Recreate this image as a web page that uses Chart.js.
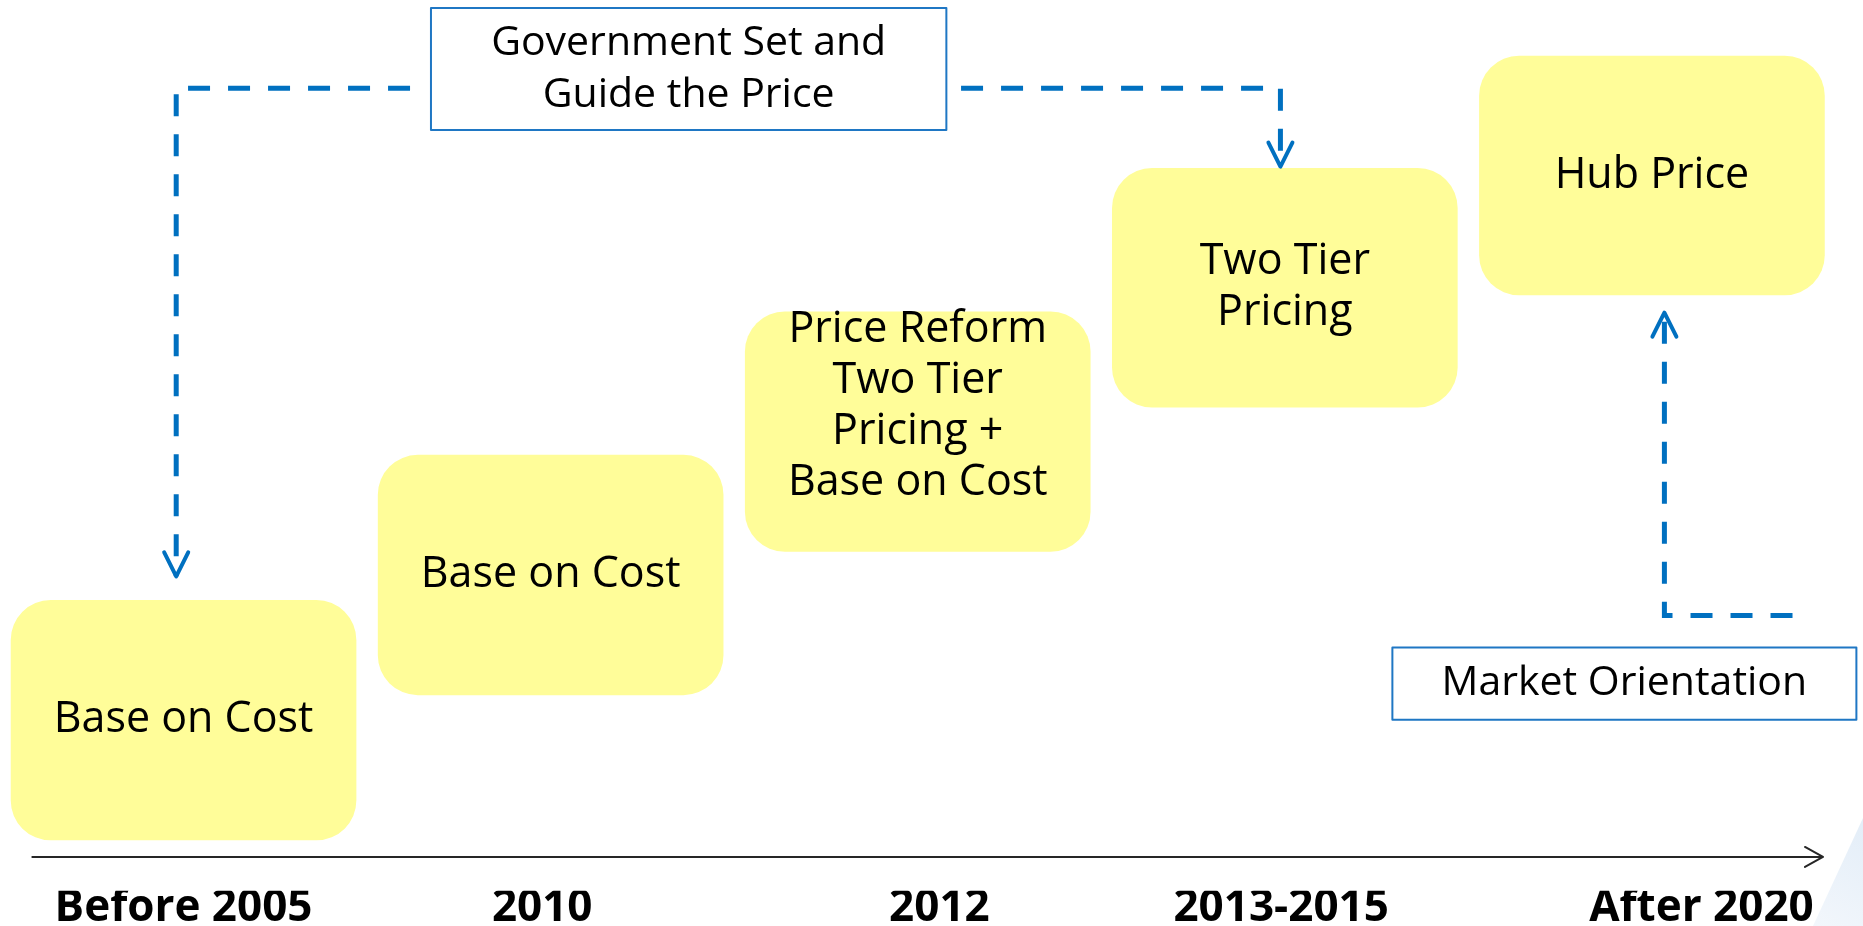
<!DOCTYPE html>
<html lang="en">
<head>
<meta charset="UTF-8">
<title>Gas Pricing Reform</title>
<script src="https://cdn.jsdelivr.net/npm/chart.js@4.4.1/dist/chart.umd.min.js"></script>
<style>
  body { margin: 0; background: #fff; }
  #wrap { width: 1863px; height: 926px; position: relative; }
</style>
</head>
<body>
<div id="wrap"><canvas id="timeline"></canvas></div>
<script>
// stages along the timeline (x = stage index)
var stagePos = [0, 1, 2, 3, 4];
var stageLow = [0.57, 2.2, 3.81, 5.43, 6.69];
var stageHigh = [3.26, 4.89, 6.5, 8.11, 9.37];
var stageText = [
  ['Base on Cost'],
  ['Base on Cost'],
  ['Price Reform', 'Two Tier', 'Pricing +', 'Base on Cost'],
  ['Two Tier', 'Pricing'],
  ['Hub Price']
];

// period labels under the axis
var periodLabels = ['Before 2005', '2010', '2012', '2013-2015', 'After 2020'];
var periodPos = [0, 0.977, 2.059, 2.99, 4.135];

// framed notes: text, x range, y range
var noteText = [['Government Set and', 'Guide the Price'], ['Market Orientation']];
var noteX = [[0.674, 2.078], [3.293, 4.557]];
var noteY = [[8.54, 9.91], [1.92, 2.73]];

// dashed connectors (x, y)
var govToBase = [[0.617, 9.01], [-0.02, 9.01], [-0.02, 3.53]];
var govToTier = [[2.118, 9.01], [2.988, 9.01], [2.988, 8.13]];
var marketToHub = [[4.383, 3.09], [4.034, 3.09], [4.034, 6.49]];
var timeAxis = [[-0.414, 0.38], [4.466, 0.38]];

var BLUE = '#0070C0';
var FONT = "'Open Sans', 'Noto Sans', sans-serif";

function pts(a) {
  return a.map(function (p) { return { x: p[0], y: p[1] }; });
}

function connector(a) {
  return {
    type: 'line', data: pts(a), borderColor: BLUE, borderWidth: 5,
    borderDash: [22, 18], pointRadius: 0, fill: false, tension: 0,
    arrow: { color: BLUE, width: 4, len: 24, half: 12 }
  };
}

var decorPlugin = {
  id: 'decor',
  beforeDraw: function (chart) {
    var ctx = chart.ctx, w = chart.width, h = chart.height;
    ctx.save();
    var g = ctx.createLinearGradient(w - 60, h, w, h - 100);
    g.addColorStop(0, '#F3F7FC');
    g.addColorStop(1, '#E4EEF8');
    ctx.fillStyle = g;
    ctx.beginPath();
    ctx.moveTo(w, h - 108);
    ctx.lineTo(w, h);
    ctx.lineTo(w - 50, h);
    ctx.closePath();
    ctx.fill();
    ctx.restore();
  },
  afterDatasetsDraw: function (chart) {
    var ctx = chart.ctx;
    var xs = chart.scales.x, ys = chart.scales.y;
    ctx.save();

    // arrow heads at the end of lines
    chart.data.datasets.forEach(function (ds, i) {
      if (!ds.arrow) return;
      var d = chart.getDatasetMeta(i).data;
      var a = d[d.length - 2], b = d[d.length - 1];
      var ang = Math.atan2(b.y - a.y, b.x - a.x);
      var o = ds.arrow;
      ctx.strokeStyle = o.color;
      ctx.lineWidth = o.width;
      ctx.setLineDash([]);
      ctx.lineCap = 'round';
      ctx.lineJoin = 'round';
      ctx.beginPath();
      ctx.moveTo(b.x - o.len * Math.cos(ang) + o.half * Math.sin(ang), b.y - o.len * Math.sin(ang) - o.half * Math.cos(ang));
      ctx.lineTo(b.x, b.y);
      ctx.lineTo(b.x - o.len * Math.cos(ang) - o.half * Math.sin(ang), b.y - o.len * Math.sin(ang) + o.half * Math.cos(ang));
      ctx.stroke();
    });

    // text in the stage boxes
    var nudge = chart.options.plugins.decor.textNudge;
    var meta = chart.getDatasetMeta(0);
    ctx.fillStyle = '#000';
    ctx.font = '43px ' + FONT;
    ctx.textAlign = 'center';
    ctx.textBaseline = 'middle';
    meta.data.forEach(function (bar, i) {
      var lines = stageText[i];
      var cy = (bar.y + bar.base) / 2 + nudge[i];
      var lh = 51;
      lines.forEach(function (t, k) {
        ctx.fillText(t, bar.x, cy + (k - (lines.length - 1) / 2) * lh);
      });
    });

    // framed notes
    noteText.forEach(function (lines, i) {
      var l = xs.getPixelForValue(noteX[i][0]), r = xs.getPixelForValue(noteX[i][1]);
      var t = ys.getPixelForValue(noteY[i][1]), b = ys.getPixelForValue(noteY[i][0]);
      ctx.fillStyle = '#fff';
      ctx.fillRect(l, t, r - l, b - t);
      ctx.strokeStyle = '#1F77C4';
      ctx.lineWidth = 2;
      ctx.strokeRect(l, t, r - l, b - t);
      ctx.fillStyle = '#000';
      ctx.font = '41px ' + FONT;
      var cy = (t + b) / 2, lh = 52;
      lines.forEach(function (s, k) {
        ctx.fillText(s, (l + r) / 2, cy + (k - (lines.length - 1) / 2) * lh);
      });
    });
    ctx.restore();
  }
};

var ctx = document.getElementById('timeline');

var chart = new Chart(ctx, {
  type: 'bar',
  data: {
    datasets: [
      {
        type: 'bar',
        data: stagePos.map(function (x, i) { return { x: x, y: [stageLow[i], stageHigh[i]] }; }),
        backgroundColor: '#FFFD99',
        borderWidth: 0,
        borderRadius: 40,
        borderSkipped: false,
        barThickness: 345
      },
      connector(govToBase),
      connector(govToTier),
      connector(marketToHub),
      {
        type: 'line', data: pts(timeAxis), borderColor: '#262626', borderWidth: 2,
        pointRadius: 0, fill: false, tension: 0,
        arrow: { color: '#262626', width: 2, len: 18, half: 10 }
      }
    ]
  },
  options: {
    responsive: true,
    maintainAspectRatio: false,
    animation: false,
    layout: { padding: 0 },
    plugins: {
      legend: { display: false },
      tooltip: { enabled: false },
      decor: { textNudge: [0, 0, -25, 0, 0] }
    },
    scales: {
      x: {
        type: 'linear',
        min: -0.5,
        max: 4.575,
        offset: false,
        grid: { display: false, drawTicks: false },
        border: { display: false },
        afterBuildTicks: function (s) {
          s.ticks = periodPos.map(function (v) { return { value: v }; });
        },
        ticks: {
          autoSkip: false,
          maxRotation: 0,
          padding: 0,
          color: '#000',
          font: { family: FONT, size: 44, weight: 'bold', lineHeight: 0.8 },
          callback: function (v, i) { return periodLabels[i]; }
        }
      },
      y: { display: false, min: 0, max: 10 }
    }
  },
  plugins: [decorPlugin]
});
</script>
</body>
</html>
